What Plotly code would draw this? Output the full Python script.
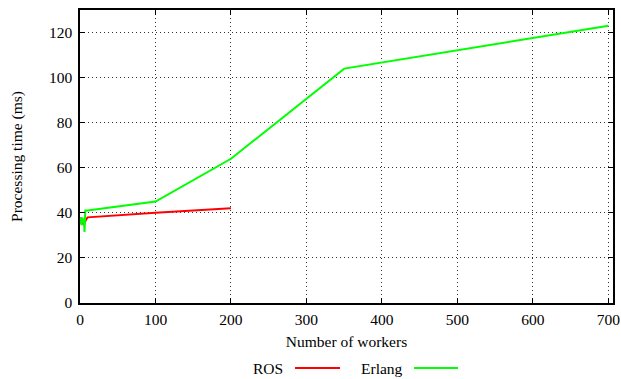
import plotly.graph_objects as go

ros_x = [1, 2, 3, 5, 8, 10, 100, 200]
ros_y = [38, 35, 37, 34.5, 37, 38, 40, 42]
erl_x = [1, 2, 3, 4, 5, 6, 7, 10, 100, 200, 350, 700]
erl_y = [38, 34.5, 38, 35.5, 37.5, 31.5, 41, 41, 45, 64, 104, 123]
x_ticks = [0, 100, 200, 300, 400, 500, 600, 700]
y_ticks = [0, 20, 40, 60, 80, 100, 120]

family = "'Liberation Serif', 'DejaVu Serif', serif"
font = dict(family=family, size=15.5, color="black")
tfont = dict(family=family, size=15.5, color="black")

fig = go.Figure()
fig.add_trace(go.Scatter(x=ros_x, y=ros_y, mode="lines", name="ROS",
                         line=dict(color="#ff0000", width=2), showlegend=False))
fig.add_trace(go.Scatter(x=erl_x, y=erl_y, mode="lines", name="Erlang",
                         line=dict(color="#00ff00", width=2), showlegend=False))

axis_common = dict(showline=True, linecolor="black", linewidth=1.5, mirror="ticks",
                   ticks="inside", ticklen=5, tickcolor="black", tickwidth=1,
                   showgrid=True, gridcolor="#333333", griddash="1px,3px", gridwidth=1,
                   zeroline=False, tickfont=tfont, automargin=False)

fig.update_xaxes(range=[0, 706], tickvals=x_ticks, ticktext=[str(v) for v in x_ticks],
                 ticklabelstandoff=2,
                 title=dict(text="Number of workers", font=font, standoff=9), **axis_common)
fig.update_yaxes(range=[0, 130], tickvals=y_ticks, ticktext=[str(v) for v in y_ticks],
                 ticklabelstandoff=3,
                 title=dict(text="Processing time (ms)", font=font, standoff=22), **axis_common)

# custom legend (text then line sample, gnuplot style)
legend_y = -0.222
fig.add_annotation(x=0.385, y=legend_y, xref="paper", yref="paper", text="ROS",
                   showarrow=False, xanchor="right", yanchor="middle", font=font)
fig.add_shape(type="line", xref="paper", yref="paper", x0=0.4034, x1=0.4878,
              y0=legend_y, y1=legend_y, line=dict(color="#ff0000", width=2))
fig.add_annotation(x=0.6098, y=legend_y, xref="paper", yref="paper", text="Erlang",
                   showarrow=False, xanchor="right", yanchor="middle", font=font)
fig.add_shape(type="line", xref="paper", yref="paper", x0=0.6266, x1=0.7092,
              y0=legend_y, y1=legend_y, line=dict(color="#00ff00", width=2))

fig.update_layout(width=621, height=379, margin=dict(l=80, r=8, t=10, b=76),
                  plot_bgcolor="white", paper_bgcolor="white", font=font,
                  showlegend=False)
fig.write_html("out.html", config={"displayModeBar": False},
               post_script="document.body.style.margin='0';document.body.style.overflow='hidden';")
